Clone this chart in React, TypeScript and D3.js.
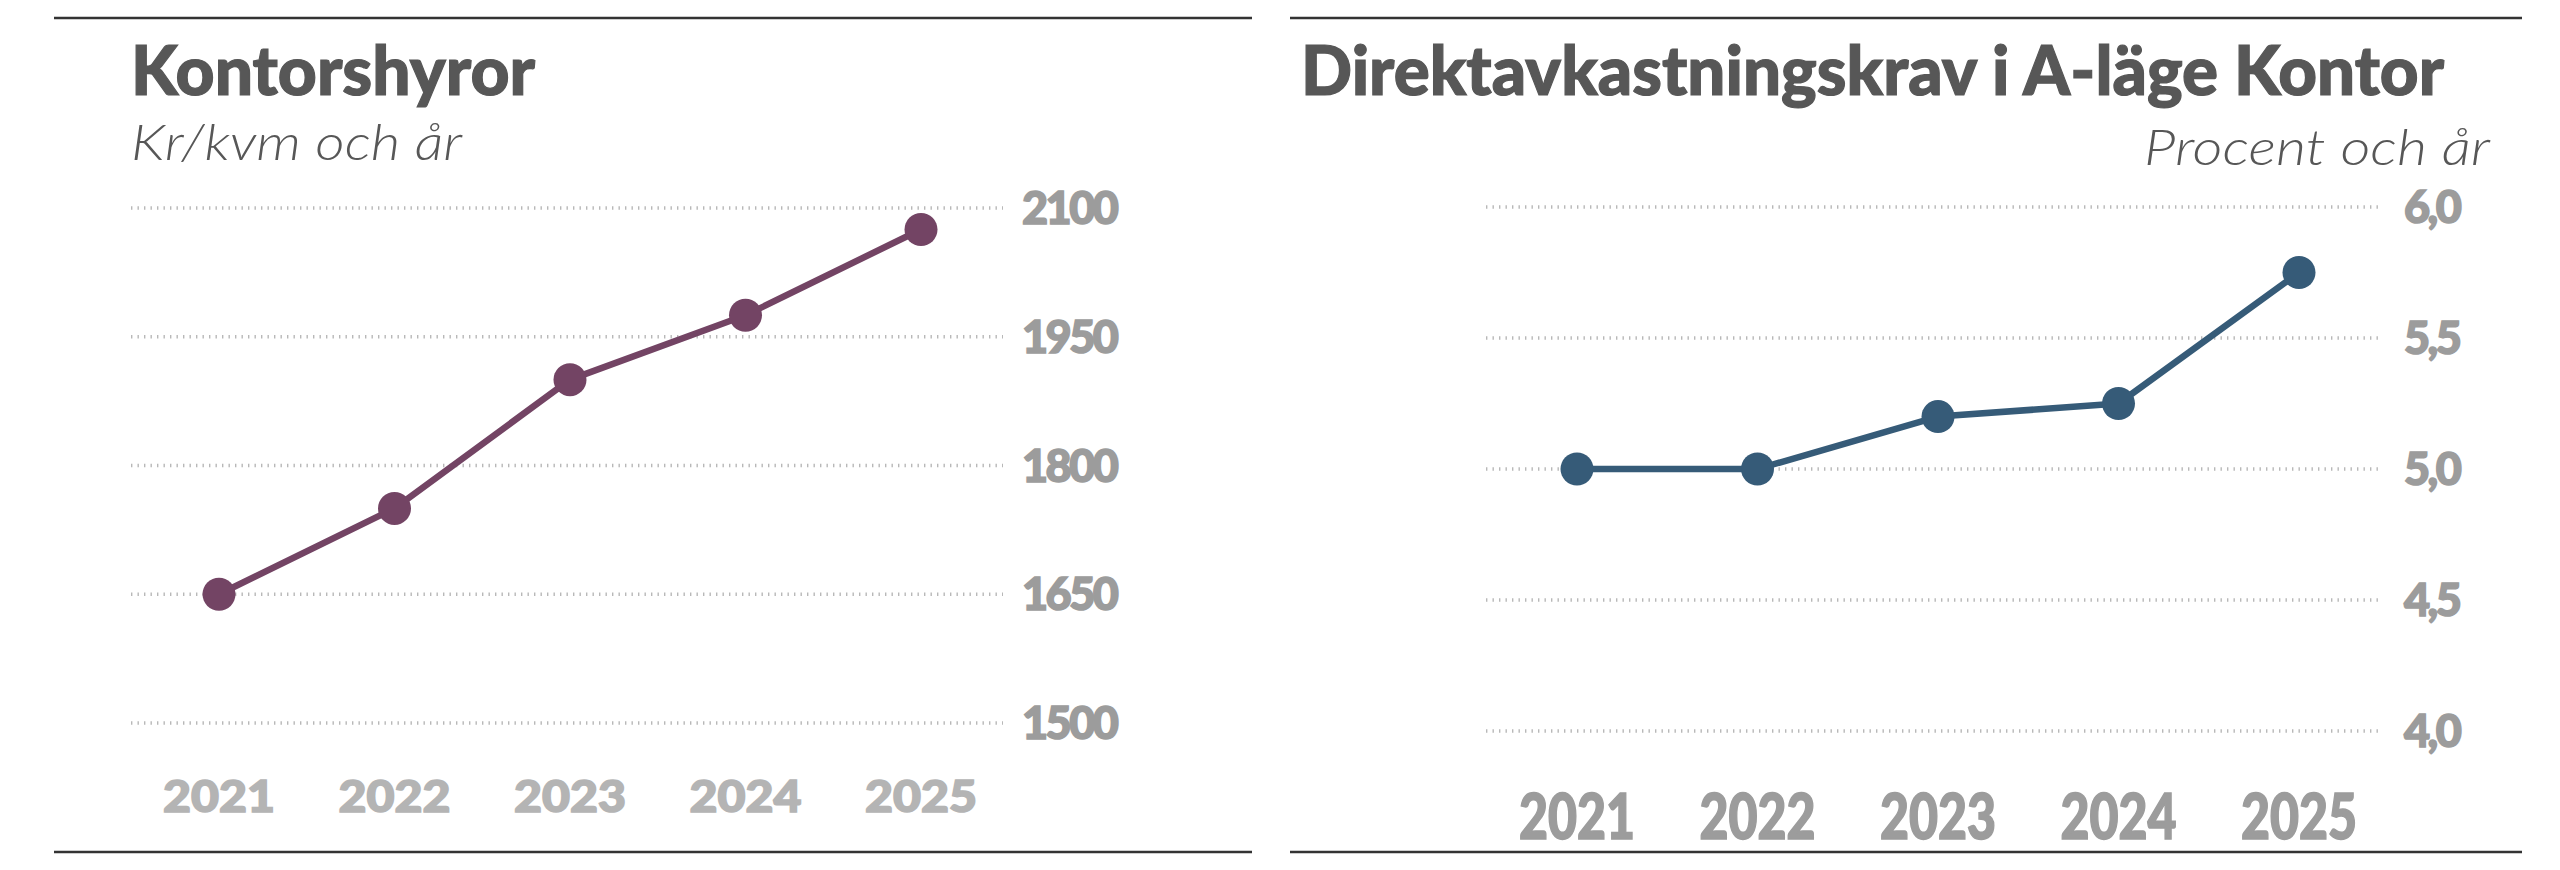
import React from "react";
import * as d3 from "d3";

const years = ["2021", "2022", "2023", "2024", "2025"];
const rentValues = [1650, 1750, 1900, 1975, 2075];
const rentTicks = [1500, 1650, 1800, 1950, 2100];
const yieldValues = [5.0, 5.0, 5.2, 5.25, 5.75];
const yieldTicks = [4.0, 4.5, 5.0, 5.5, 6.0];

const leftTitle = "Kontorshyror";
const leftSub = "Kr/kvm och år";
const rightTitle = "Direktavkastningskrav i A-läge Kontor";
const rightSub = "Procent och år";

const W = 2560;
const H = 870;
const FONT = "Lato, 'Noto Sans', sans-serif";
const TITLE_C = "#575757";
const TICK_C = "#9c9c9c";
const GRID_C = "#b8b8b8";

function Panel(props: {
  x0: number; x1: number; gx0: number; gx1: number;
  px0: number; px1: number; yTop: number; yBot: number;
  domain: [number, number]; ticks: number[]; values: number[];
  color: string; fmt: (v: number) => string; tickX: number;
  title: string; titleX: number; titleW: number;
  sub: string; subX: number; subW: number; subAnchor: "start" | "end"; subY: number;
  xLabelFill: string; xLabelSize: number; xLabelY: number; xLabelW: number;
}) {
  const x = d3.scalePoint<string>().domain(years).range([props.px0, props.px1]);
  const y = d3.scaleLinear().domain(props.domain).range([props.yBot, props.yTop]);
  const line = d3.line<number>().x((_, i) => x(years[i])!).y((v) => y(v));
  return (
    <g>
      <line x1={props.x0} x2={props.x1} y1={18} y2={18} stroke="#333" strokeWidth={2.5} />
      <line x1={props.x0} x2={props.x1} y1={852} y2={852} stroke="#333" strokeWidth={2.5} />
      <text x={props.titleX} y={95} fontFamily={FONT} fontWeight={900} fontSize={68} fill={TITLE_C}
        stroke={TITLE_C} strokeWidth={1.2}
        textLength={props.titleW} lengthAdjust="spacingAndGlyphs">{props.title}</text>
      <text x={props.subX} y={props.subY} fontFamily={FONT} fontWeight={300} fontStyle="italic" fontSize={50}
        fill={TITLE_C} textAnchor={props.subAnchor} textLength={props.subW} lengthAdjust="spacingAndGlyphs">{props.sub}</text>
      {props.ticks.map((t) => (
        <g key={t}>
          <line x1={props.gx0} x2={props.gx1} y1={y(t)} y2={y(t)} stroke={GRID_C} strokeWidth={3.5}
            strokeDasharray="1.4 5.1" />
          <text x={props.tickX} y={y(t)} dy="0.36em" fontFamily={FONT} fontWeight={900} fontSize={45}
            fill={TICK_C} stroke={TICK_C} strokeWidth={1.6} letterSpacing={-2.5}>{props.fmt(t)}</text>
        </g>
      ))}
      <path d={line(props.values)!} fill="none" stroke={props.color} strokeWidth={6.5} strokeLinejoin="round" />
      {props.values.map((v, i) => (
        <circle key={i} cx={x(years[i])!} cy={y(v)} r={16.5} fill={props.color} />
      ))}
      {years.map((yr) => (
        <text key={yr} x={x(yr)!} y={props.xLabelY} textAnchor="middle" fontFamily={FONT} fontWeight={900}
          fontSize={props.xLabelSize} fill={props.xLabelFill} stroke={props.xLabelFill} strokeWidth={1.6}
          textLength={props.xLabelW} lengthAdjust="spacingAndGlyphs">{yr}</text>
      ))}
    </g>
  );
}

export default function App() {
  const fmtInt = (v: number) => d3.format("d")(v);
  const fmtComma = (v: number) => d3.format(".1f")(v).replace(".", ",");
  return (
    <svg width={W} height={H} style={{ position: "absolute", left: 0, top: 0, background: "#fff" }}>
      <rect width={W} height={H} fill="#fff" />
      <Panel x0={54} x1={1252} gx0={131} gx1={1003} px0={219} px1={921} yTop={208} yBot={723}
        domain={[1500, 2100]} ticks={rentTicks} values={rentValues} color="#734464" fmt={fmtInt}
        tickX={1022} title={leftTitle} titleX={131} titleW={404} sub={leftSub} subX={131} subW={331}
        subAnchor="start" subY={160} xLabelFill="#b4b4b4" xLabelSize={44} xLabelY={812} xLabelW={112} />
      <Panel x0={1290} x1={2522} gx0={1486} gx1={2380} px0={1577} px1={2299} yTop={207} yBot={731}
        domain={[4, 6]} ticks={yieldTicks} values={yieldValues} color="#365b78" fmt={fmtComma}
        tickX={2404} title={rightTitle} titleX={1301} titleW={1143} sub={rightSub} subX={2490} subW={346}
        subAnchor="end" subY={165} xLabelFill={TICK_C} xLabelSize={62} xLabelY={839} xLabelW={116} />
    </svg>
  );
}
